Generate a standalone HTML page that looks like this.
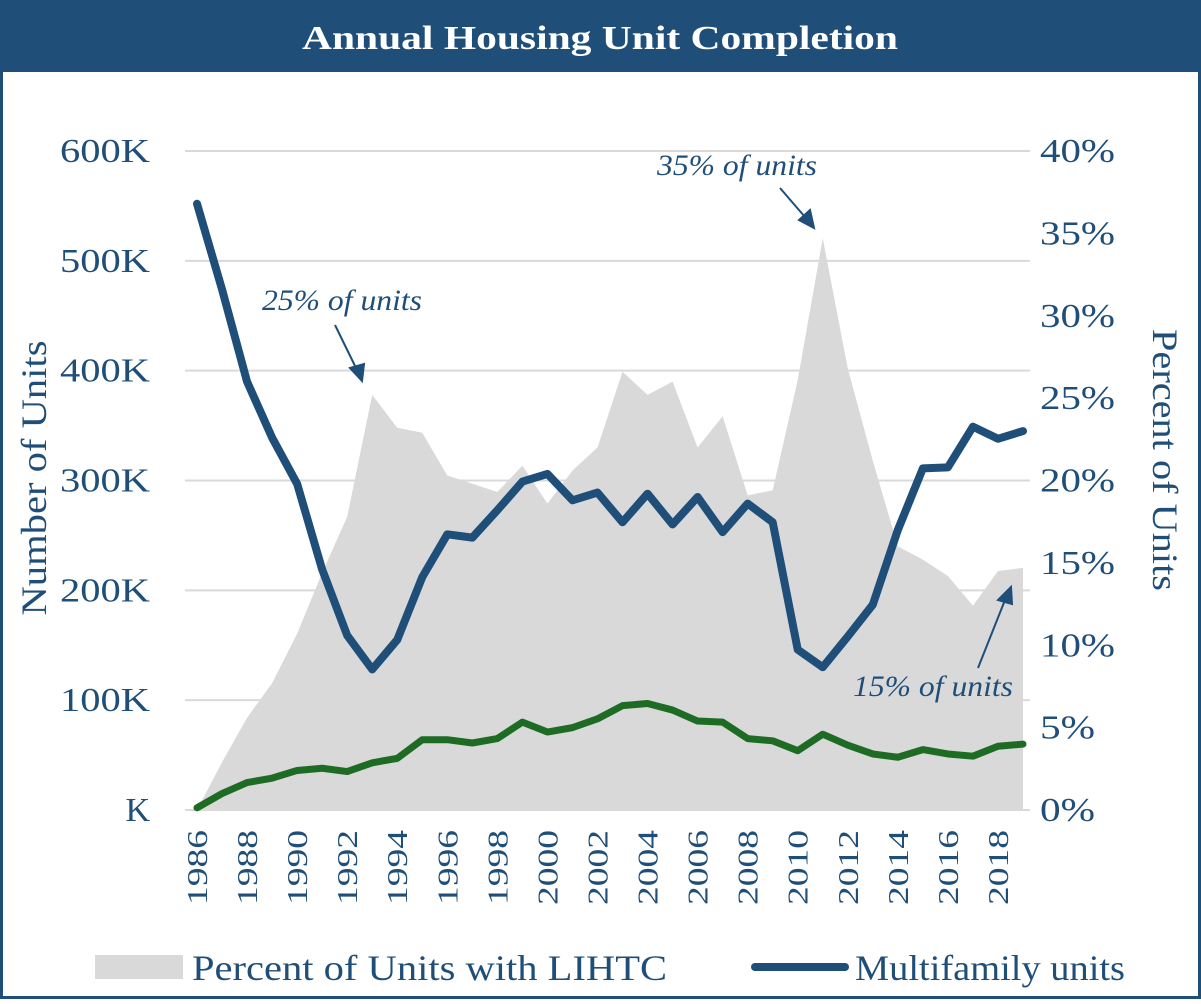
<!DOCTYPE html>
<html><head><meta charset="utf-8"><style>
body{margin:0;background:#fff}
svg text{font-family:"Liberation Serif",serif}
</style></head><body>
<svg width="1201" height="999" xmlns="http://www.w3.org/2000/svg">
<rect x="1.5" y="1.5" width="1198" height="996" fill="#fff" stroke="#1f4e79" stroke-width="3"/>
<rect x="0" y="0" width="1201" height="72" fill="#1f4e79"/>
<text x="600" y="49" text-anchor="middle" fill="#fff" font-size="34" font-weight="bold" textLength="596" lengthAdjust="spacingAndGlyphs">Annual Housing Unit Completion</text>
<g id="grid"></g>
<g id="area"></g>
<g id="lines"></g>
<g id="labels"></g>
<text transform="translate(46,478) rotate(-90)" text-anchor="middle" fill="#1f4e79" font-size="36" textLength="275" lengthAdjust="spacingAndGlyphs">Number of Units</text>
<text transform="translate(1153,460) rotate(90)" text-anchor="middle" fill="#1f4e79" font-size="36" textLength="262" lengthAdjust="spacingAndGlyphs">Percent of Units</text>
<g fill="#1f4e79" font-size="30" font-style="italic">
<text x="342" y="310" text-anchor="middle" textLength="160" lengthAdjust="spacingAndGlyphs">25% of units</text>
<text x="737" y="175" text-anchor="middle" textLength="160" lengthAdjust="spacingAndGlyphs">35% of units</text>
<text x="933" y="696" text-anchor="middle" textLength="160" lengthAdjust="spacingAndGlyphs">15% of units</text>
</g>
<g stroke="#1f4e79" stroke-width="2" fill="#1f4e79">
<line x1="335" y1="325" x2="357" y2="370"/>
<polygon points="362,381 350,368 364,364"/>
<line x1="780" y1="188" x2="805" y2="217"/>
<polygon points="814,228 799,220 810,210"/>
<line x1="978" y1="668" x2="1005" y2="600"/>
<polygon points="1011,587 998,600 1012,604"/>
</g>
<rect x="95" y="955" width="88" height="24" fill="#d9d9d9"/>
<text x="192" y="980" fill="#1f4e79" font-size="36" textLength="475" lengthAdjust="spacingAndGlyphs">Percent of Units with LIHTC</text>
<line x1="755" y1="967" x2="845" y2="967" stroke="#1f4e79" stroke-width="8" stroke-linecap="round"/>
<text x="855" y="980" fill="#1f4e79" font-size="36" textLength="270" lengthAdjust="spacingAndGlyphs">Multifamily units</text>
</svg>
<script>
const years=[];for(let y=1986;y<=2019;y++)years.push(y);
const multifamily=[552,474,390,339,297,219,159,128,155,212,251,248,273,299,306,282,289,262,288,260,285,253,279,262,146,130,158,187,255,311,312,349,338,345];
const lihtcUnits=[2,15,25,29,36,38,35,43,47,64,64,61,65,80,71,75,83,95,97,91,81,80,65,63,54,69,59,51,48,55,51,49,58,60];
const lihtcPct=[0,2.9,5.6,7.7,10.7,14.4,17.8,25.2,23.2,22.9,20.3,19.8,19.3,20.9,18.6,20.6,22.0,26.6,25.2,26.0,22.0,23.9,19.1,19.4,26.1,34.7,26.8,21.2,16.0,15.2,14.2,12.4,14.5,14.7];
const leftTicks=[0,100,200,300,400,500,600];
const leftTickLabels=["K","100K","200K","300K","400K","500K","600K"];
const rightTicks=[0,5,10,15,20,25,30,35,40];
const NS="http://www.w3.org/2000/svg";
const x=y=>197+(y-1986)*25.03;
const yL=v=>810-v*1.0983;
const yR=p=>810-p*16.475;
function mk(t,a,p){const e=document.createElementNS(NS,t);for(const k in a)e.setAttribute(k,a[k]);document.getElementById(p).appendChild(e);return e;}
leftTicks.forEach((v,i)=>{
 if(v>0){const g=mk('line',{x1:185,x2:1030,y1:yL(v),y2:yL(v),stroke:'#d9d9d9','stroke-width':2},'grid');
 
 }
 const lab=leftTickLabels[i];
 const attrs={x:150,y:yL(v)+11,'text-anchor':'end',fill:'#1f4e79','font-size':34};
 if(lab.length>1){attrs.textLength=lab.length===4?90:70;attrs.lengthAdjust='spacingAndGlyphs';}
 const t=mk('text',attrs,'labels');t.textContent=lab;
 
 
});
rightTicks.forEach(p=>{
 const s=p+'%';
 const t=mk('text',{x:1040,y:yR(p)+11,fill:'#1f4e79','font-size':34,textLength:s.length===3?75:55,lengthAdjust:'spacingAndGlyphs'},'labels');t.textContent=s;
 
 
});
years.forEach(y=>{if(y%2===0){
 const t=mk('text',{transform:`translate(${x(y)+10},${905}) rotate(-90)`,fill:'#1f4e79','font-size':29,textLength:75,lengthAdjust:'spacingAndGlyphs'},'labels');t.textContent=y;
 
 
}});
let d='M'+x(1986)+','+yR(0);
lihtcPct.forEach((p,i)=>d+=' L'+x(years[i])+','+yR(p));
d+=' L'+x(2019)+','+yR(0)+' Z';
const a=mk('path',{d:d,fill:'#d9d9d9'},'area');


const ax=mk('line',{x1:185,x2:1030,y1:810,y2:810,stroke:'#d9d9d9','stroke-width':2},'grid');


const g=mk('polyline',{points:lihtcUnits.map((v,i)=>x(years[i])+','+yL(v)).join(' '),fill:'none',stroke:'#1e6b24','stroke-width':7,'stroke-linejoin':'round','stroke-linecap':'round'},'lines');


const m=mk('polyline',{points:multifamily.map((v,i)=>x(years[i])+','+yL(v)).join(' '),fill:'none',stroke:'#1f4e79','stroke-width':8,'stroke-linejoin':'round','stroke-linecap':'round'},'lines');


</script>
</body></html>
